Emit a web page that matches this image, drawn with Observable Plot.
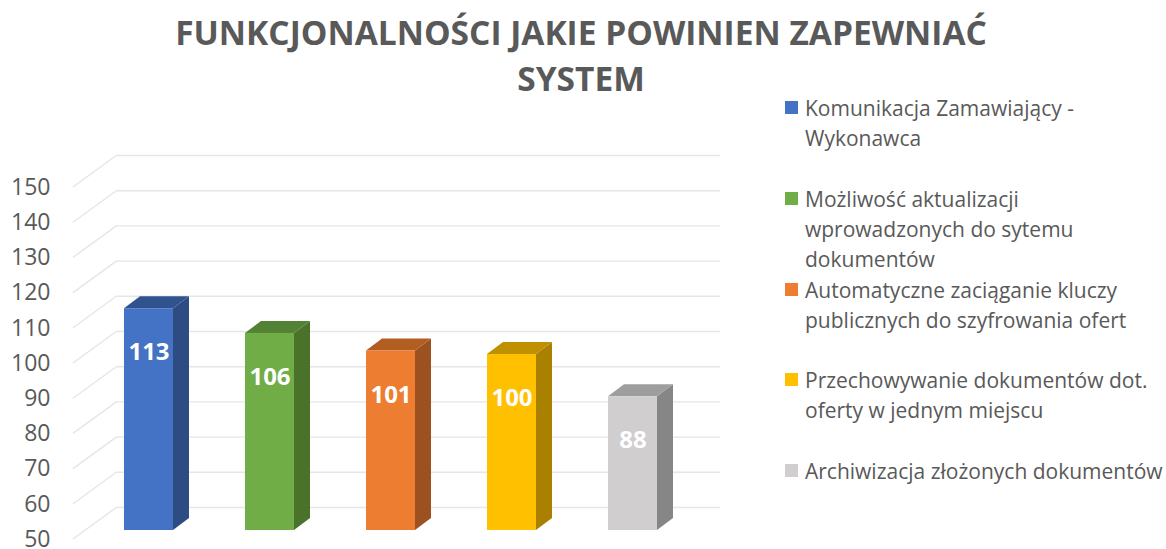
<!DOCTYPE html>
<html>
<head>
<meta charset="utf-8">
<script src="https://cdn.jsdelivr.net/npm/d3@7"></script>
<script src="https://cdn.jsdelivr.net/npm/@observablehq/plot@0.6"></script>
<style>
  html, body { margin: 0; padding: 0; background: #fff; }
  #wrap { position: relative; width: 1166px; height: 549px; overflow: hidden; font-family: "Open Sans", sans-serif; }
  #title { position: absolute; left: 0; width: 1166px; top: 9px; text-align: center; font-weight: 700; font-size: 33.5px; line-height: 46px; color: #595959; }
  #title .t { position: absolute; left: 581px; transform: translateX(-50%); white-space: nowrap; }
  #chart { position: absolute; left: 0; top: 0; }
  .leg { position: absolute; left: 805px; font-size: 21px; line-height: 30px; color: #595959; white-space: pre-line; }
  .leg .sw { position: absolute; left: -20px; top: 8px; width: 13px; height: 13px; }
</style>
</head>
<body>
<div id="wrap">
  <div id="chart"></div>
  <div id="title"></div>
  <div id="legend"></div>
</div>
<script>
// ---- data ----
const titleLines = ["FUNKCJONALNOŚCI JAKIE POWINIEN ZAPEWNIAĆ", "SYSTEM"];
const categories = [
  "Komunikacja Zamawiający - Wykonawca",
  "Możliwość aktualizacji wprowadzonych do sytemu dokumentów",
  "Automatyczne zaciąganie kluczy publicznych do szyfrowania ofert",
  "Przechowywanie dokumentów dot. oferty w jednym miejscu",
  "Archiwizacja złożonych dokumentów"
];
const legendLabels = [
  "Komunikacja Zamawiający -\nWykonawca",
  "Możliwość aktualizacji\nwprowadzonych do sytemu\ndokumentów",
  "Automatyczne zaciąganie kluczy\npublicznych do szyfrowania ofert",
  "Przechowywanie dokumentów dot.\noferty w jednym miejscu",
  "Archiwizacja złożonych dokumentów"
];
const values = [113, 106, 101, 100, 88];
const frontColors = ["#4472C4", "#70AD47", "#ED7D31", "#FFC000", "#D0CECE"];
const sideColors  = ["#2E4C84", "#4A722B", "#9C5120", "#A98000", "#868686"];
const topColors   = ["#30528F", "#548235", "#B25D22", "#BF9000", "#9E9E9E"];
const yTicks = [50, 60, 70, 80, 90, 100, 110, 120, 130, 140, 150];

const data = categories.map((c, i) => ({category: c, value: values[i], side: sideColors[i], top: topColors[i]}));

// ---- 3D geometry (pixels) ----
const BACK_X = 44, BACK_Y = 32;   // wall depth
const DEPTH_X = 16, DEPTH_Y = 12; // bar depth
const FRONT_DY = -9;              // bar front plane offset

// title
const titleEl = document.getElementById("title");
titleLines.forEach((t, i) => {
  const s = document.createElement("div");
  s.className = "t";
  s.style.top = (i * 46) + "px";
  s.textContent = t;
  titleEl.appendChild(s);
});

// legend
const legEl = document.getElementById("legend");
legendLabels.forEach((t, i) => {
  const d = document.createElement("div");
  d.className = "leg";
  d.style.top = (93 + 90.75 * i) + "px";
  d.textContent = t;
  const sw = document.createElement("span");
  sw.className = "sw";
  sw.style.background = frontColors[i];
  d.appendChild(sw);
  legEl.appendChild(d);
});

const gridColor = "#E6E6E6";

const chart = Plot.plot({
  width: 760,
  height: 549,
  marginLeft: 73,
  marginRight: 40,
  marginTop: 150,
  marginBottom: 8,
  style: {fontFamily: "'Open Sans', sans-serif", color: "#595959", background: "transparent", overflow: "visible"},
  x: {domain: categories, range: [86.75, 694.25], paddingInner: 0.597, paddingOuter: 0.2985, axis: null},
  y: {domain: [50, 150], range: [539, 187]},
  color: {domain: categories, range: frontColors},
  marks: [
    // back wall gridlines
    Plot.ruleY(yTicks, {y: d => d, dy: -BACK_Y, insetLeft: BACK_X, stroke: gridColor, strokeWidth: 1.4}),
    // diagonal side-wall gridlines
    (index, scales, values, dims) => {
      const {y} = scales;
      const g = d3.create("svg:g").attr("stroke", gridColor).attr("stroke-width", 1.4);
      for (const t of yTicks) {
        g.append("line")
          .attr("x1", dims.marginLeft).attr("y1", y(t))
          .attr("x2", dims.marginLeft + BACK_X).attr("y2", y(t) - BACK_Y);
      }
      return g.node();
    },
    // bar side and top faces
    (index, scales) => {
      const {x, y} = scales;
      const bw = x.bandwidth();
      const g = d3.create("svg:g");
      for (const d of data) {
        const x1 = x(d.category), x2 = x1 + bw;
        const yt = y(d.value) + FRONT_DY, yb = y(50) + FRONT_DY;
        g.append("polygon")
          .attr("fill", d.side)
          .attr("points", [[x2, yb], [x2 + DEPTH_X, yb - DEPTH_Y], [x2 + DEPTH_X, yt - DEPTH_Y], [x2, yt]].join(" "));
        g.append("polygon")
          .attr("fill", d.top)
          .attr("points", [[x1, yt], [x1 + DEPTH_X, yt - DEPTH_Y], [x2 + DEPTH_X, yt - DEPTH_Y], [x2, yt]].join(" "));
      }
      return g.node();
    },
    // bar front faces
    Plot.barY(data, {x: "category", y1: () => 50, y2: "value", fill: "category", dy: FRONT_DY}),
    // value labels
    Plot.text(data, {x: "category", y: "value", text: d => String(d.value), dy: 35, fill: "white", fontWeight: "bold", fontSize: 24}),
    // y axis
    Plot.axisY(yTicks, {anchor: "left", tickSize: 0, tickPadding: 23, fontSize: 23, label: null})
  ]
});
document.getElementById("chart").appendChild(chart);
</script>
</body>
</html>
